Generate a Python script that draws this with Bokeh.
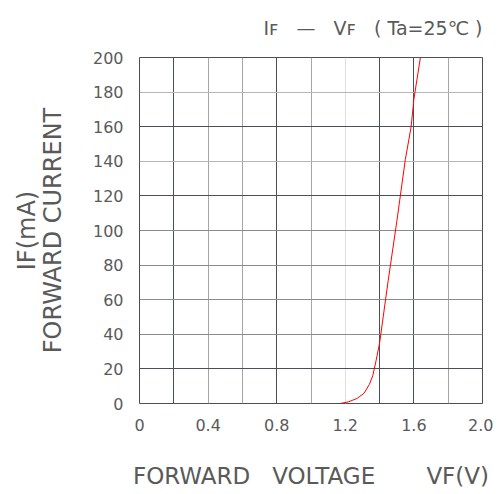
from bokeh.plotting import figure
from bokeh.models import FixedTicker, Grid, CustomJSTickFormatter, Range1d, LinearAxis
from bokeh.embed import file_html
from bokeh.resources import INLINE

# Data (IF vs VF, Ta=25C)
vf = [1.17, 1.22, 1.27, 1.31, 1.34, 1.36, 1.38, 1.40, 1.45, 1.50, 1.55, 1.584, 1.60, 1.638]
if_ma = [0, 1, 3, 6, 11, 16, 25, 35, 71, 105, 141, 160, 176, 200]

x_ticks = [0, 0.4, 0.8, 1.2, 1.6, 2.0]
y_ticks = [0, 20, 40, 60, 80, 100, 120, 140, 160, 180, 200]

x_grid_dark = [0.2, 0.8, 1.4, 1.6]
x_grid_mid = [0.4, 0.6, 1.0, 1.8]
x_grid_light = [1.2]
y_grid_dark = [20, 120, 160]
y_grid_mid = [40, 60, 80, 100]
y_grid_light = [140, 180]

NB = "\u00a0"
title_text = ("I\ua730" + NB * 3 + "\u2014" + NB * 3 + "V\ua730" + NB * 3 + "("
              + NB + "Ta=25\u2103" + NB + ")")
x_label = "FORWARD" + NB * 3 + "VOLTAGE" + NB * 7 + "VF(V)"
y_label = "FORWARD" + NB + "CURRENT"
y_label2 = "IF(mA)"

FONT = "DejaVu Sans"
TXT = "#5a5a5a"

p = figure(frame_width=343, frame_height=346,
           x_range=Range1d(0, 2), y_range=Range1d(0, 200),
           output_backend="svg", toolbar_location=None,
           min_border_left=139, min_border_right=11,
           min_border_top=56, min_border_bottom=84)

p.xgrid.grid_line_color = None
p.ygrid.grid_line_color = None
for dim, ticks, col in [(0, x_grid_dark, "#4a4f55"), (0, x_grid_mid, "#a4a6a8"),
                        (0, x_grid_light, "#dedede"), (1, y_grid_dark, "#4a4f55"),
                        (1, y_grid_mid, "#8a8d90"), (1, y_grid_light, "#b4b6b8")]:
    p.add_layout(Grid(dimension=dim, ticker=FixedTicker(ticks=ticks),
                      grid_line_color=col, grid_line_width=1))

p.outline_line_color = "#4a4f55"
p.outline_line_width = 1

for ax in (p.xaxis[0], p.yaxis[0]):
    ax.axis_line_color = None
    ax.major_tick_line_color = None
    ax.minor_tick_line_color = None
    ax.major_tick_out = 0
    ax.major_tick_in = 0
    ax.minor_tick_out = 0
    ax.minor_tick_in = 0
    ax.major_label_text_font = FONT
    ax.major_label_text_font_size = "16px"
    ax.major_label_text_color = TXT
    ax.axis_label_text_font = FONT
    ax.axis_label_text_font_style = "normal"
    ax.axis_label_text_color = TXT

p.xaxis.ticker = FixedTicker(ticks=x_ticks)
p.xaxis.formatter = CustomJSTickFormatter(code="return tick == 0 ? '0' : tick.toFixed(1);")
p.xaxis.major_label_standoff = 15
p.xaxis.axis_label = x_label
p.xaxis.axis_label_text_font_size = "23px"
p.xaxis.axis_label_standoff = 29

p.yaxis.ticker = FixedTicker(ticks=y_ticks)
p.yaxis.major_label_standoff = 16
p.yaxis.axis_label = y_label
p.yaxis.axis_label_text_font_size = "24px"
p.yaxis.axis_label_standoff = 23

ax2 = LinearAxis(ticker=FixedTicker(ticks=[]), axis_label=y_label2,
                 axis_line_color=None, major_tick_line_color=None,
                 minor_tick_line_color=None, major_tick_out=0, major_tick_in=0,
                 minor_tick_out=0, minor_tick_in=0, major_label_standoff=0,
                 major_label_text_font_size="0px",
                 axis_label_text_font=FONT, axis_label_text_font_size="24px",
                 axis_label_text_font_style="normal", axis_label_text_color=TXT,
                 axis_label_standoff=-5)
p.add_layout(ax2, "left")

p.title.text = title_text
p.title.align = "right"
p.title.vertical_align = "top"
p.title.text_font = FONT
p.title.text_font_size = "19px"
p.title.text_font_style = "normal"
p.title.text_color = TXT
p.title.standoff = 33

p.line(vf, if_ma, line_color="#ff0000", line_width=1)

open("out.html", "w").write(file_html(p, INLINE))
